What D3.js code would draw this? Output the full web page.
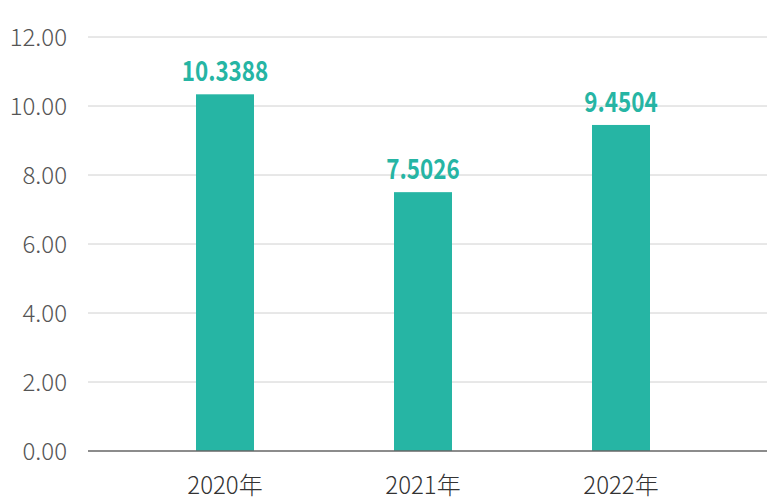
<!DOCTYPE html>
<html><head><meta charset="utf-8">
<script src="https://cdn.jsdelivr.net/npm/d3@7"></script>
<style>body{margin:0;background:#fff}</style>
</head><body><svg id="c"></svg>
<script>
const WIDTH = 767, HEIGHT = 504;
const years = ['2020年', '2021年', '2022年'];
const values = [10.3388, 7.5026, 9.4504];
const labels = ['10.3388', '7.5026', '9.4504'];
const ticks = [0, 2, 4, 6, 8, 10, 12];
const TEAL = '#26b5a4';

const svg = d3.select('#c').attr('width', WIDTH).attr('height', HEIGHT);
const x = d3.scaleBand().domain(years).range([126, 720]);
const y = d3.scaleLinear().domain([0, 12]).range([451, 37]);
const barW = 58;

// gridlines
svg.selectAll('.grid').data(ticks.slice(1)).join('line')
  .attr('x1', 88).attr('x2', WIDTH).attr('y1', d => y(d)).attr('y2', d => y(d))
  .attr('stroke', '#d0d0d0');

svg.selectAll('.tl').data(ticks).join('text')
  .attr('x', 67).attr('y', d => y(d) + 9).attr('text-anchor', 'end')
  .attr('font-family', 'Noto Sans CJK JP, Noto Sans').attr('font-weight', 300).attr('font-size', 24)
  .attr('fill', '#555').text(d => d.toFixed(2));

svg.selectAll('.bar').data(values).join('rect')
  .attr('x', (d, i) => x(years[i]) + x.bandwidth() / 2 - barW / 2)
  .attr('y', d => y(d)).attr('width', barW).attr('height', d => y(0) - y(d))
  .attr('fill', TEAL);

svg.selectAll('.vl').data(values).join('text')
  .attr('x', (d, i) => x(years[i]) + x.bandwidth() / 2)
  .attr('y', d => y(d) - 13).attr('text-anchor', 'middle')
  .attr('font-family', 'Noto Sans CJK JP, Noto Sans').attr('font-weight', 'bold')
  .attr('font-size', 28).attr('fill', TEAL)
  .attr('transform', (d, i) => { const cx = x(years[i]) + x.bandwidth() / 2; return `translate(${cx},0) scale(0.8,1) translate(${-cx},0)`; })
  .text((d, i) => labels[i]);

svg.append('line').attr('x1', 88).attr('x2', WIDTH).attr('y1', y(0)).attr('y2', y(0))
  .attr('stroke', '#666').attr('stroke-width', 1.5);

svg.selectAll('.xl').data(years).join('text')
  .attr('x', d => x(d) + x.bandwidth() / 2).attr('y', 494).attr('text-anchor', 'middle')
  .attr('font-family', 'Noto Sans CJK JP, Noto Sans').attr('font-weight', 300).attr('font-size', 24)
  .attr('fill', '#333').text(d => d);
</script></body></html>
